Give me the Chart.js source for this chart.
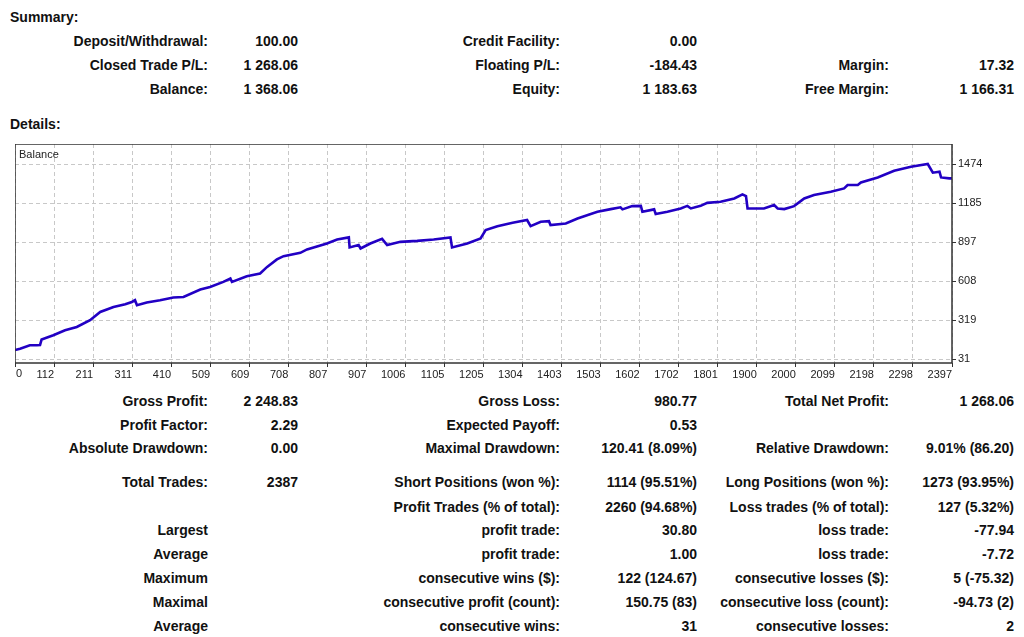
<!DOCTYPE html>
<html lang="en">

<head>
    <meta charset="UTF-8">
    <title>Strategy Tester Report</title>
    <script src="https://cdn.jsdelivr.net/npm/chart.js"></script>
    <style>
        body {
            margin: 0;
            background: #ffffff;
            width: 1024px;
            height: 637px;
            position: relative;
            overflow: hidden;
            font-family: 'Liberation Sans', Arial, sans-serif;
            font-weight: bold;
            font-size: 14px;
            color: #111;
        }

        .t {
            position: absolute;
            white-space: nowrap;
            line-height: 16px;
        }

        .head { left: 10px; text-align: left; }
        .l1 { left: 0; width: 208px; text-align: right; }
        .v1 { left: 210px; width: 88px; text-align: right; }
        .l2 { left: 300px; width: 260px; text-align: right; }
        .v2 { left: 570px; width: 127px; text-align: right; }
        .l3 { left: 700px; width: 189px; text-align: right; }
        .v3 { left: 890px; width: 124px; text-align: right; }

        #chartBox {
            position: absolute;
            left: 15px;
            top: 144px;
            width: 985px;
            height: 239px;
        }
    </style>
</head>

<body>
    <div class="t head" style="top:9px">Summary:</div>

    <div class="t l1" style="top:33px">Deposit/Withdrawal:</div>
    <div class="t v1" style="top:33px">100.00</div>
    <div class="t l2" style="top:33px">Credit Facility:</div>
    <div class="t v2" style="top:33px">0.00</div>

    <div class="t l1" style="top:57px">Closed Trade P/L:</div>
    <div class="t v1" style="top:57px">1 268.06</div>
    <div class="t l2" style="top:57px">Floating P/L:</div>
    <div class="t v2" style="top:57px">-184.43</div>
    <div class="t l3" style="top:57px">Margin:</div>
    <div class="t v3" style="top:57px">17.32</div>

    <div class="t l1" style="top:81px">Balance:</div>
    <div class="t v1" style="top:81px">1 368.06</div>
    <div class="t l2" style="top:81px">Equity:</div>
    <div class="t v2" style="top:81px">1 183.63</div>
    <div class="t l3" style="top:81px">Free Margin:</div>
    <div class="t v3" style="top:81px">1 166.31</div>

    <div class="t head" style="top:116px">Details:</div>

    <div id="chartBox"><canvas id="balanceChart"></canvas></div>

    <div class="t l1" style="top:393px">Gross Profit:</div>
    <div class="t v1" style="top:393px">2 248.83</div>
    <div class="t l2" style="top:393px">Gross Loss:</div>
    <div class="t v2" style="top:393px">980.77</div>
    <div class="t l3" style="top:393px">Total Net Profit:</div>
    <div class="t v3" style="top:393px">1 268.06</div>

    <div class="t l1" style="top:417px">Profit Factor:</div>
    <div class="t v1" style="top:417px">2.29</div>
    <div class="t l2" style="top:417px">Expected Payoff:</div>
    <div class="t v2" style="top:417px">0.53</div>

    <div class="t l1" style="top:440px">Absolute Drawdown:</div>
    <div class="t v1" style="top:440px">0.00</div>
    <div class="t l2" style="top:440px">Maximal Drawdown:</div>
    <div class="t v2" style="top:440px">120.41 (8.09%)</div>
    <div class="t l3" style="top:440px">Relative Drawdown:</div>
    <div class="t v3" style="top:440px">9.01% (86.20)</div>

    <div class="t l1" style="top:474px">Total Trades:</div>
    <div class="t v1" style="top:474px">2387</div>
    <div class="t l2" style="top:474px">Short Positions (won %):</div>
    <div class="t v2" style="top:474px">1114 (95.51%)</div>
    <div class="t l3" style="top:474px">Long Positions (won %):</div>
    <div class="t v3" style="top:474px">1273 (93.95%)</div>

    <div class="t l2" style="top:499px">Profit Trades (% of total):</div>
    <div class="t v2" style="top:499px">2260 (94.68%)</div>
    <div class="t l3" style="top:499px">Loss trades (% of total):</div>
    <div class="t v3" style="top:499px">127 (5.32%)</div>

    <div class="t l1" style="top:522px">Largest</div>
    <div class="t l2" style="top:522px">profit trade:</div>
    <div class="t v2" style="top:522px">30.80</div>
    <div class="t l3" style="top:522px">loss trade:</div>
    <div class="t v3" style="top:522px">-77.94</div>

    <div class="t l1" style="top:546px">Average</div>
    <div class="t l2" style="top:546px">profit trade:</div>
    <div class="t v2" style="top:546px">1.00</div>
    <div class="t l3" style="top:546px">loss trade:</div>
    <div class="t v3" style="top:546px">-7.72</div>

    <div class="t l1" style="top:570px">Maximum</div>
    <div class="t l2" style="top:570px">consecutive wins ($):</div>
    <div class="t v2" style="top:570px">122 (124.67)</div>
    <div class="t l3" style="top:570px">consecutive losses ($):</div>
    <div class="t v3" style="top:570px">5 (-75.32)</div>

    <div class="t l1" style="top:594px">Maximal</div>
    <div class="t l2" style="top:594px">consecutive profit (count):</div>
    <div class="t v2" style="top:594px">150.75 (83)</div>
    <div class="t l3" style="top:594px">consecutive loss (count):</div>
    <div class="t v3" style="top:594px">-94.73 (2)</div>

    <div class="t l1" style="top:618px">Average</div>
    <div class="t l2" style="top:618px">consecutive wins:</div>
    <div class="t v2" style="top:618px">31</div>
    <div class="t l3" style="top:618px">consecutive losses:</div>
    <div class="t v3" style="top:618px">2</div>

    <script>
        // balance curve (trade number -> balance)
        const trades = [
            0, 13, 38, 56, 64, 68, 98, 128, 158, 192, 218, 252, 282, 299, 307, 312,
            337, 371, 405, 431, 474, 499, 533, 551, 555, 593, 627, 645, 670, 687,
            730, 747, 798, 824, 854, 856, 879, 884, 909, 939, 952, 986, 1029, 1071,
            1114, 1118, 1157, 1191, 1204, 1234, 1273, 1310, 1319, 1345, 1366, 1370,
            1409, 1439, 1490, 1524, 1549, 1554, 1579, 1601, 1605, 1635, 1639, 1669,
            1703, 1720, 1729, 1754, 1771, 1805, 1840, 1861, 1870, 1874, 1916, 1942,
            1951, 1968, 1993, 2019, 2044, 2087, 2121, 2130, 2156, 2164, 2207, 2249,
            2292, 2335, 2348, 2365, 2369, 2390, 2397
        ];
        const balance = [
            100, 110, 135, 135, 137, 177, 209, 246, 270, 320, 381, 418, 438, 455, 468, 431,
            451, 468, 488, 492, 547, 566, 603, 628, 603, 645, 665, 714, 769, 793,
            818, 843, 887, 917, 932, 858, 875, 850, 887, 921, 875, 899, 906, 917,
            932, 858, 887, 924, 986, 1015, 1040, 1060, 1015, 1047, 1052, 1023,
            1035, 1072, 1121, 1141, 1154, 1139, 1163, 1165, 1121, 1139, 1104, 1121,
            1146, 1165, 1146, 1165, 1187, 1195, 1220, 1250, 1237, 1146, 1146, 1171,
            1146, 1141, 1163, 1220, 1245, 1269, 1294, 1319, 1319, 1338, 1375, 1424,
            1454, 1474, 1410, 1417, 1375, 1368, 1368
        ];

        const xLabels = ['0', '112', '211', '311', '410', '509', '609', '708', '807', '907',
            '1006', '1105', '1205', '1304', '1403', '1503', '1602', '1702', '1801', '1900',
            '2000', '2099', '2198', '2298', '2397'];
        const yTicks = [31, 319, 608, 897, 1185, 1474];

        const xMax = 2397;
        const yMin = 4;
        const yMax = 1622;

        const points = trades.map((t, i) => ({ x: t, y: balance[i] }));
        const xStep = xMax / (xLabels.length - 1);
        const fontFamily = '"Liberation Sans", Arial, sans-serif';

        const frame = {
            id: 'frame',
            afterDraw(chart) {
                const { ctx, chartArea: a } = chart;
                const xs = chart.scales.x;
                ctx.save();
                ctx.strokeStyle = '#333';
                ctx.lineWidth = 1.5;
                ctx.strokeRect(a.left, a.top, a.right - a.left, a.bottom - a.top);
                ctx.fillStyle = '#222';
                ctx.font = '11px ' + fontFamily;
                ctx.textBaseline = 'top';
                ctx.fillText('Balance', a.left + 4, a.top + 5);
                // first x label sits to the right of its tick, the others to the left
                ctx.fillText(xLabels[0], xs.getPixelForValue(0) + 1, a.bottom + 5);
                ctx.restore();
            }
        };

        const tickFont = { family: fontFamily, size: 11 };

        new Chart(document.getElementById('balanceChart'), {
            type: 'line',
            data: {
                datasets: [{
                    label: 'Balance',
                    data: points,
                    borderColor: '#2200c4',
                    borderWidth: 2.6,
                    pointRadius: 0,
                    tension: 0,
                    fill: false
                }]
            },
            options: {
                responsive: true,
                maintainAspectRatio: false,
                animation: false,
                plugins: {
                    legend: { display: false },
                    tooltip: { enabled: false }
                },
                scales: {
                    x: {
                        type: 'linear',
                        min: 0,
                        max: xMax,
                        afterBuildTicks: (s) => {
                            s.ticks = xLabels.map((_, i) => ({ value: i * xStep }));
                        },
                        afterFit: (s) => {
                            s.height = 20;
                            s.paddingLeft = 0;
                            s.paddingRight = 0;
                        },
                        ticks: {
                            autoSkip: false,
                            maxRotation: 0,
                            align: 'end',
                            padding: 1,
                            color: '#222',
                            font: tickFont,
                            callback: (v, i) => (i === 0 ? '' : xLabels[i])
                        },
                        grid: {
                            color: '#c8c8c8',
                            tickColor: '#333',
                            tickLength: 4
                        },
                        border: { display: false, dash: [4, 3] }
                    },
                    y: {
                        position: 'right',
                        min: yMin,
                        max: yMax,
                        afterBuildTicks: (s) => {
                            s.ticks = yTicks.map(v => ({ value: v }));
                        },
                        afterFit: (s) => {
                            s.width = 48;
                            s.paddingTop = 0;
                            s.paddingBottom = 0;
                        },
                        ticks: {
                            padding: 2,
                            color: '#222',
                            font: tickFont,
                            callback: (v) => String(v)
                        },
                        grid: {
                            color: '#c8c8c8',
                            tickColor: '#333',
                            tickLength: 4
                        },
                        border: { display: false, dash: [4, 3] }
                    }
                }
            },
            plugins: [frame]
        });
    </script>
</body>

</html>
